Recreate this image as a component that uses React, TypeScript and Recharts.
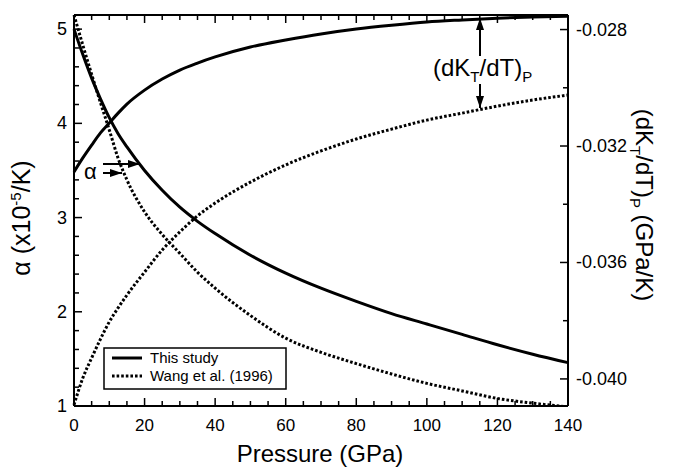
import { ComposedChart, Line, XAxis, YAxis, Legend } from 'recharts';

document.body.style.margin = '0';

const FONT = '"Liberation Sans", Arial, Helvetica, sans-serif';

// pressure grid (GPa)
const PRESSURE = [0, 2.5, 5, 7.5, 10, 12.5, 15, 20, 25, 30, 35, 40, 50, 60, 70, 80, 90, 100, 110, 120, 130, 140];

// thermal expansivity, x10^-5 /K
const ALPHA_THIS = [5.0, 4.73, 4.48, 4.26, 4.06, 3.89, 3.75, 3.5, 3.29, 3.11, 2.96, 2.83, 2.6, 2.41, 2.25, 2.11, 1.98, 1.87, 1.76, 1.65, 1.55, 1.46];
const ALPHA_WANG = [5.15, 4.83, 4.52, 4.22, 3.93, 3.63, 3.4, 3.06, 2.82, 2.62, 2.42, 2.25, 1.96, 1.72, 1.57, 1.45, 1.34, 1.24, 1.16, 1.08, 1.03, 0.99];

// (dKT/dT)P, GPa/K
const DKDT_THIS = [-0.03289, -0.03241, -0.03197, -0.03155, -0.03121, -0.03087, -0.03056, -0.03008, -0.0297, -0.02939, -0.02915, -0.02894, -0.0286, -0.02836, -0.02815, -0.02798, -0.02785, -0.02774, -0.02767, -0.02761, -0.02757, -0.02754];
const DKDT_WANG = [-0.04089, -0.03997, -0.03928, -0.03863, -0.03804, -0.03756, -0.03712, -0.03633, -0.03557, -0.03495, -0.0344, -0.03396, -0.03324, -0.03265, -0.03217, -0.03176, -0.03142, -0.03111, -0.03087, -0.03063, -0.03042, -0.03025];

const X_TICKS = [0, 5, 10, 15, 20, 25, 30, 35, 40, 45, 50, 55, 60, 65, 70, 75, 80, 85, 90, 95, 100, 105, 110, 115, 120, 125, 130, 135, 140];
const ALPHA_TICKS = [1, 1.2, 1.4, 1.6, 1.8, 2, 2.2, 2.4, 2.6, 2.8, 3, 3.2, 3.4, 3.6, 3.8, 4, 4.2, 4.4, 4.6, 4.8, 5];
const DKDT_TICKS = [-0.04, -0.038, -0.036, -0.034, -0.032, -0.03, -0.028];

const data = PRESSURE.map((p, i) => ({
  p,
  alphaThis: ALPHA_THIS[i],
  alphaWang: ALPHA_WANG[i],
  dkThis: DKDT_THIS[i],
  dkWang: DKDT_WANG[i],
}));

const isMultiple = (v: number, step: number) => Math.abs(v / step - Math.round(v / step)) < 1e-6;

const BottomTick = ({ x, y, payload }: any) => {
  const major = isMultiple(payload.value, 20);
  return (
    <g>
      <line x1={x} y1={y} x2={x} y2={y - (major ? 8 : 5)} stroke="#000" strokeWidth={1.5} />
      {major && (
        <text x={x} y={y + 25} textAnchor="middle" fontSize={17} fill="#000" fontFamily={FONT}>
          {payload.value}
        </text>
      )}
    </g>
  );
};

const TopTick = ({ x, y, payload }: any) => {
  const major = isMultiple(payload.value, 20);
  return <line x1={x} y1={y} x2={x} y2={y + (major ? 8 : 5)} stroke="#000" strokeWidth={1.5} />;
};

const LeftTick = ({ x, y, payload }: any) => {
  const major = isMultiple(payload.value, 1);
  return (
    <g>
      <line x1={x} y1={y} x2={x + (major ? 8 : 5)} y2={y} stroke="#000" strokeWidth={1.5} />
      {major && (
        <text x={x - 7} y={y + 6} textAnchor="end" fontSize={18} fill="#000" fontFamily={FONT}>
          {payload.value}
        </text>
      )}
    </g>
  );
};

const RightTick = ({ x, y, payload }: any) => {
  const major = isMultiple(payload.value, 0.004);
  return (
    <g>
      <line x1={x} y1={y} x2={x - (major ? 8 : 5)} y2={y} stroke="#000" strokeWidth={1.5} />
      {major && (
        <text x={x + 8} y={y + 6} textAnchor="start" fontSize={18} fill="#000" fontFamily={FONT}>
          {payload.value.toFixed(3)}
        </text>
      )}
    </g>
  );
};

const LegendBox = ({ payload }: any) => {
  const items = (payload || []).filter((it: any) => it.value === 'This study' || it.value === 'Wang et al. (1996)');
  return (
    <svg width={184} height={43} style={{ display: 'block' }}>
      <rect x={1} y={1} width={182} height={41} fill="#fff" stroke="#000" strokeWidth={1.5} />
      {items.map((it: any, i: number) => (
        <g key={it.value}>
          <line
            x1={9}
            x2={39}
            y1={11 + i * 18}
            y2={11 + i * 18}
            stroke="#000"
            strokeWidth={3}
            strokeDasharray={it.value === 'This study' ? undefined : '2.6 2'}
          />
          <text x={47} y={16 + i * 18} fontSize={15} fill="#000" fontFamily={FONT}>
            {it.value}
          </text>
        </g>
      ))}
    </svg>
  );
};

export default function App() {
  return (
    <div style={{ position: 'relative', width: 675, height: 471, fontFamily: FONT, background: '#fff' }}>
      <ComposedChart width={675} height={471} data={data} margin={{ top: 10, right: 0, bottom: 0, left: 0 }}>
        <XAxis
          xAxisId="b"
          dataKey="p"
          type="number"
          domain={[0, 140]}
          ticks={X_TICKS}
          interval={0}
          height={65}
          tickSize={0}
          tickMargin={0}
          tickLine={false}
          axisLine={{ stroke: '#000', strokeWidth: 2 }}
          tick={<BottomTick />}
        />
        <XAxis
          xAxisId="t"
          orientation="top"
          dataKey="p"
          type="number"
          domain={[0, 140]}
          ticks={X_TICKS}
          interval={0}
          height={5}
          tickSize={0}
          tickMargin={0}
          tickLine={false}
          axisLine={{ stroke: '#000', strokeWidth: 2 }}
          tick={<TopTick />}
        />
        <YAxis
          yAxisId="a"
          type="number"
          domain={[1, 5.15]}
          allowDataOverflow
          ticks={ALPHA_TICKS}
          interval={0}
          width={74}
          tickSize={0}
          tickMargin={0}
          tickLine={false}
          axisLine={{ stroke: '#000', strokeWidth: 2 }}
          tick={<LeftTick />}
        />
        <YAxis
          yAxisId="k"
          orientation="right"
          type="number"
          domain={[-0.04093, -0.0275]}
          allowDataOverflow
          ticks={DKDT_TICKS}
          interval={0}
          width={107}
          tickSize={0}
          tickMargin={0}
          tickLine={false}
          axisLine={{ stroke: '#000', strokeWidth: 2 }}
          tick={<RightTick />}
        />
        <Legend
          content={<LegendBox />}
          layout="horizontal"
          verticalAlign="middle"
          align="center"
          wrapperStyle={{ left: 103, top: 347, width: 184, height: 43 }}
        />
        <Line
          name="This study"
          xAxisId="b"
          yAxisId="a"
          dataKey="alphaThis"
          type="monotone"
          stroke="#000"
          strokeWidth={3}
          dot={false}
          isAnimationActive={false}
        />
        <Line
          name="Wang et al. (1996)"
          xAxisId="b"
          yAxisId="a"
          dataKey="alphaWang"
          type="monotone"
          stroke="#000"
          strokeWidth={3}
          strokeDasharray="2.6 2"
          dot={false}
          isAnimationActive={false}
        />
        <Line
          name="dk this"
          legendType="none"
          xAxisId="b"
          yAxisId="k"
          dataKey="dkThis"
          type="monotone"
          stroke="#000"
          strokeWidth={3}
          dot={false}
          isAnimationActive={false}
        />
        <Line
          name="dk wang"
          legendType="none"
          xAxisId="b"
          yAxisId="k"
          dataKey="dkWang"
          type="monotone"
          stroke="#000"
          strokeWidth={3}
          strokeDasharray="2.6 2"
          dot={false}
          isAnimationActive={false}
        />
      </ComposedChart>
      <svg
        width={675}
        height={471}
        style={{ position: 'absolute', left: 0, top: 0, pointerEvents: 'none' }}
        fontFamily={FONT}
      >
        <defs>
          <marker id="ah" viewBox="0 0 12 8" refX="12" refY="4" markerWidth="12" markerHeight="8" orient="auto" markerUnits="userSpaceOnUse">
            <path d="M0,0 L12,4 L0,8 z" fill="#000" />
          </marker>
        </defs>
        <text x={320} y={462} textAnchor="middle" fontSize={24} fill="#000">
          Pressure (GPa)
        </text>
        <text transform="translate(30,218) rotate(-90)" textAnchor="middle" fontSize={25} fill="#000">
          α (x10
          <tspan dy={-9} fontSize={15}>-5</tspan>
          <tspan dy={9}>/K)</tspan>
        </text>
        <text transform="translate(636,205) rotate(90)" textAnchor="middle" fontSize={24} fill="#000">
          (dK
          <tspan dy={6} fontSize={15}>T</tspan>
          <tspan dy={-6}>/dT)</tspan>
          <tspan dy={6} fontSize={15}>P</tspan>
          <tspan dy={-6}> (GPa/K)</tspan>
        </text>
        <text x={433} y={76} fontSize={24} fill="#000">
          (dK
          <tspan dy={6} fontSize={15}>T</tspan>
          <tspan dy={-6}>/dT)</tspan>
          <tspan dy={6} fontSize={15}>P</tspan>
        </text>
        <line x1={480} y1={56} x2={480} y2={18} stroke="#000" strokeWidth={2} markerEnd="url(#ah)" />
        <line x1={480} y1={84} x2={480} y2={108} stroke="#000" strokeWidth={2} markerEnd="url(#ah)" />
        <text x={84} y={179} fontSize={22} fill="#000">α</text>
        <line x1={103} y1={164} x2={140} y2={164} stroke="#000" strokeWidth={2} markerEnd="url(#ah)" />
        <line x1={103} y1={173} x2={122} y2={173} stroke="#000" strokeWidth={2} markerEnd="url(#ah)" />
      </svg>
    </div>
  );
}
